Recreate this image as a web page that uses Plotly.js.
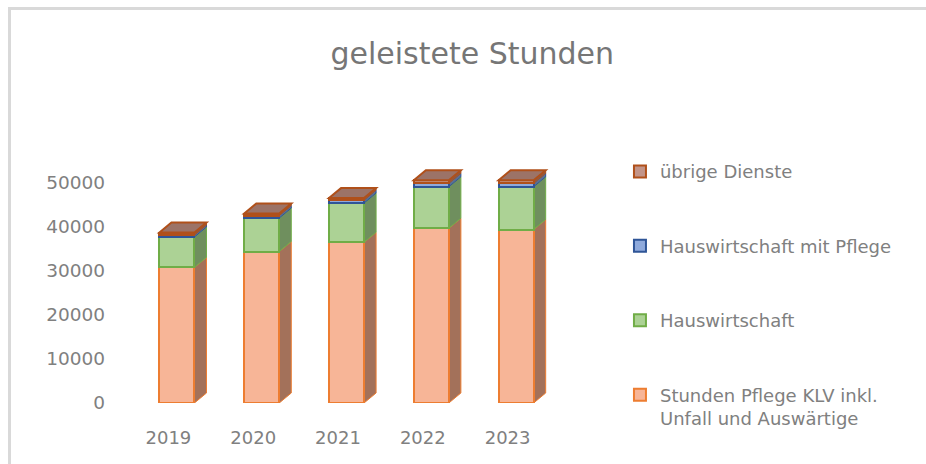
<!DOCTYPE html>
<html>
<head>
<meta charset="utf-8">
<script src="https://cdn.plot.ly/plotly-3.0.1.min.js"></script>
<style>
  html, body { margin: 0; padding: 0; background: #ffffff; }
  #frame { position: absolute; left: 8px; top: 7px; width: 940px; height: 480px;
           border-left: 3px solid #d9d9d9; border-top: 3px solid #d9d9d9; pointer-events: none; z-index: 5; }
  #chart { position: absolute; left: 0; top: 0; width: 926px; height: 464px; }
</style>
</head>
<body>
<div id="chart"></div>
<div id="frame"></div>
<script>
// ---- data ----
const years = ['2019', '2020', '2021', '2022', '2023'];
const pflegeKLV = [30800, 34400, 36500, 39700, 39400];
const hauswirtschaft = [6900, 7600, 8900, 9400, 9700];
const hwMitPflege = [450, 570, 680, 800, 800];
const uebrigeDienste = [550, 450, 450, 680, 680];
const yTicks = [0, 10000, 20000, 30000, 40000, 50000];

const seriesNames = ['Stunden Pflege KLV inkl.<br>Unfall und Auswärtige', 'Hauswirtschaft', 'Hauswirtschaft mit Pflege', 'übrige Dienste'];
const seriesValues = [pflegeKLV, hauswirtschaft, hwMitPflege, uebrigeDienste];

// ---- style ----
const fills = ['#f7b597', '#acd295', '#8faadc', '#c39488'];
const lines = ['#ed7d31', '#70ad47', '#2f5597', '#b0501a'];
const sides = ['#a3715a', '#6f8f5e', '#5b6f92', '#8a5a48'];
const topFill = '#9c7367';
const barWidth = 0.413, barOffset = -0.106;
const depthX = 0.142, depthY = 2270;
const textColor = '#808080';
const fontFam = '"DejaVu Sans", "Open Sans", sans-serif';

const traces = seriesValues.map((vals, k) => ({
  type: 'bar', x: years, y: vals, name: seriesNames[k],
  legendgroup: 'g' + k,
  legendrank: 10 - k,
  width: barWidth, offset: barOffset,
  marker: { color: fills[k], line: { color: lines[k], width: 2 } },
  hoverinfo: 'skip'
}));

// 3D side and top faces derived from the data
const shapes = [];
years.forEach((yr, i) => {
  let base = 0;
  const xl = i + barOffset, xr = xl + barWidth;
  seriesValues.forEach((vals, k) => {
    const top = base + vals[i];
    shapes.push({
      type: 'path', xref: 'x', yref: 'y', layer: 'below',
      path: `M ${xr} ${base} L ${xr + depthX} ${base + depthY} L ${xr + depthX} ${top + depthY} L ${xr} ${top} Z`,
      fillcolor: sides[k], line: { color: lines[k], width: 1 }
    });
    base = top;
  });
  shapes.push({
    type: 'path', xref: 'x', yref: 'y', layer: 'above',
    path: `M ${xl} ${base} L ${xl + depthX} ${base + depthY} L ${xr + depthX} ${base + depthY} L ${xr} ${base} Z`,
    fillcolor: topFill, line: { color: lines[3], width: 2 }
  });
});

const layout = {
  width: 926, height: 464,
  paper_bgcolor: '#ffffff', plot_bgcolor: '#ffffff',
  margin: { l: 126, r: 376, t: 152, b: 61 },
  barmode: 'stack',
  showlegend: true,
  font: { family: fontFam, color: textColor, size: 18 },
  title: {
    text: 'geleistete Stunden',
    font: { family: fontFam, size: 30, color: '#767676' },
    x: 0.51, xanchor: 'center', xref: 'container',
    y: 0.885, yanchor: 'middle', yref: 'container'
  },
  xaxis: {
    type: 'category', range: [-0.5, 4.5],
    showgrid: false, zeroline: false, showline: false, ticks: '',
    ticklabelstandoff: 22,
    tickfont: { family: fontFam, size: 18, color: textColor }
  },
  yaxis: {
    range: [0, 57000], tickvals: yTicks, ticktext: yTicks.map(String),
    showgrid: false, zeroline: false, showline: false, ticks: '',
    ticklabelstandoff: 20,
    tickfont: { family: fontFam, size: 18.5, color: textColor }
  },
  legend: {
    x: 1.165, xanchor: 'left', y: 0.995, yanchor: 'top',
    traceorder: 'grouped', tracegroupgap: 48, valign: 'top',
    maxheight: 420,
    font: { family: fontFam, size: 18, color: textColor },
    bgcolor: 'rgba(0,0,0,0)'
  },
  shapes: shapes
};

Plotly.newPlot('chart', traces, layout, { staticPlot: true, displayModeBar: false });
</script>
</body>
</html>
